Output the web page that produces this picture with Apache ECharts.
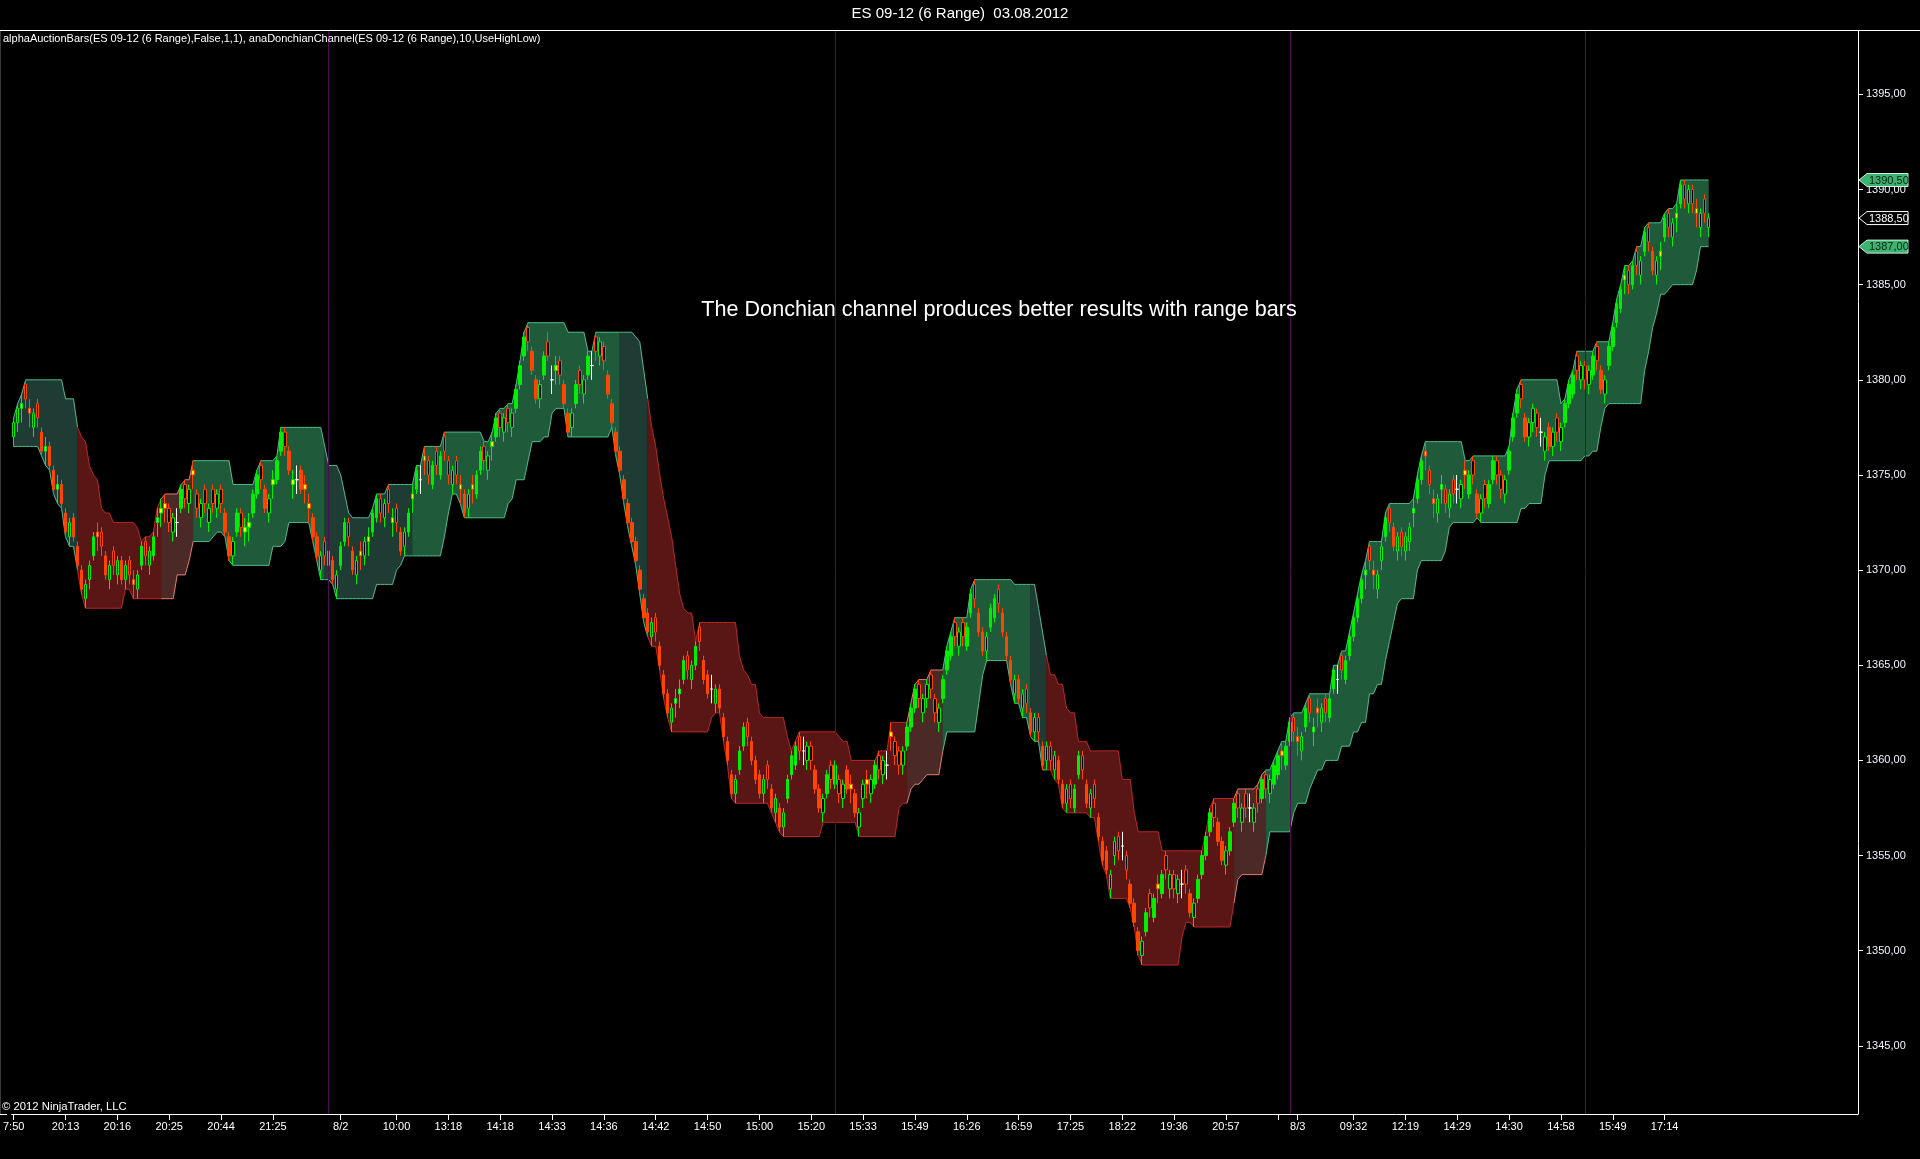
<!DOCTYPE html>
<html>
<head>
<meta charset="utf-8">
<script src="https://cdn.jsdelivr.net/npm/echarts@6/dist/echarts.min.js"></script>
<style>
html,body{margin:0;padding:0;background:#000;}
#chart{width:1920px;height:1159px;}
</style>
</head>
<body>
<div id="chart"></div>
<script>
// ---------------- DATA ----------------
const opens = [
1377,1377.75,1378.5,1379.75,1378.5,1377.5,1378.75,1377.25,1376.25,1376.5,
1375.25,1374.25,1374.5,1373,1371.75,1372.75,1371.25,1370,1368.5,1369.5,
1370.75,1372,1372,1370.75,1369.5,1371,1369.75,1370.5,1369.5,1370.5,
1369.5,1369,1370.25,1371.5,1370.25,1370.75,1372.5,1373,1373.5,1373.25,
1372,1372.5,1373.25,1374.5,1373.5,1375.25,1374,1372.75,1374.25,1372.5,
1374.25,1373.25,1374.25,1373,1371.75,1370.75,1372,1373,1372,1372.25,
1373,1374,1375.5,1374.25,1373,1374.5,1374.75,1376.25,1377.25,1376.25,
1374.5,1374.75,1375.25,1374.5,1373.5,1372.75,1371.75,1370,1371.5,1370.25,
1370.5,1369,1370.25,1371.5,1372.5,1371,1369.75,1371,1370.75,1371.5,
1372,1372.75,1373.75,1372.75,1374.25,1372.5,1373.25,1372,1371.25,1372,
1373.75,1374.25,1374.75,1376,1375.75,1374.5,1376.25,1375,1377,1375.75,
1374.5,1375.75,1374.5,1374,1373.25,1374.5,1374,1375.25,1376.5,1375.25,
1376.5,1377,1378.25,1377.25,1378.5,1377.5,1378.5,1379.75,1381.25,1382.75,
1381.5,1380,1379,1380.25,1382,1380,1380.5,1381,1379.75,1378.25,
1377.5,1378.75,1380.5,1379.25,1380.25,1380.75,1382.25,1381.25,1381.75,1380.25,
1378.75,1377.25,1376.25,1374.75,1373.5,1372.5,1371.5,1370,1368.5,1367.75,
1366.5,1367.5,1366,1364.5,1363.5,1362,1363,1363.5,1364.25,1365.5,
1364.25,1365,1367,1365.25,1364.5,1363.75,1363,1363.75,1362.25,1361,
1359.25,1358.25,1359.5,1360.75,1362,1361,1360,1359.25,1358.25,1359.75,
1358.5,1357.25,1357.5,1356.5,1358,1359.25,1359.75,1361.25,1360.5,1360,
1360.75,1359.5,1358.5,1357.25,1358.25,1359.75,1358.75,1359,1358,1359.5,
1358.75,1358.25,1356.5,1358,1359,1358.25,1358.75,1360.25,1359.25,1359.75,
1361.5,1361,1360.5,1359.75,1360.75,1361.75,1362.75,1364,1362.5,1363.25,
1364.5,1363.25,1362,1363.25,1364.75,1365.5,1367.25,1366,1367.25,1366,
1367.75,1369.25,1367.75,1366.75,1365.75,1367,1367.5,1369,1367.75,1366.5,
1365.25,1363.5,1364.25,1362.75,1363.75,1362.5,1361.5,1362.25,1360.75,1360,
1360.75,1359.5,1360,1358.75,1357.75,1358.75,1357.5,1359.25,1360.25,1358.75,
1357.5,1358.75,1357,1355.75,1355.25,1353.25,1355,1356,1355.5,1355,
1353.5,1352.5,1351,1349.75,1351,1353,1351.75,1353.5,1353,1355,
1353.25,1354,1353,1353.5,1354.25,1353,1351.75,1352.75,1354,1355,
1356.25,1357.75,1356.75,1355.75,1354.5,1355.25,1356.75,1358.25,1356.75,1358.25,
1357.5,1356.75,1358.5,1358,1359.25,1358.25,1358.75,1359.25,1360.5,1359.75,
1361,1362.25,1361.25,1360.5,1361.75,1363.25,1361.5,1362.75,1362,1363.25,
1362.25,1363.75,1364.25,1365.5,1364.25,1365.5,1366.5,1367.5,1368.5,1369.75,
1371.25,1370,1369,1370.5,1371.75,1373.25,1372.25,1371,1372,1371,
1371.5,1373,1373.75,1374.75,1376.25,1375.25,1373.75,1373,1374.25,1374.25,
1373.25,1374.75,1374.25,1373.75,1375.25,1374,1375.75,1374,1373,1374.5,
1373.5,1374.75,1375.75,1375,1374,1375.25,1377,1378.25,1379.75,1378,
1377,1377.75,1378.25,1377.25,1376.25,1377.5,1376.5,1378,1376.75,1377.75,
1378.75,1379.25,1381.25,1380,1380.75,1379.75,1380.25,1381.75,1380.5,1379.25,
1380.75,1381.75,1383,1383.75,1385.25,1385.75,1385,1386.75,1385.5,1386.75,
1388,1386.75,1385.5,1386.5,1387.5,1388.75,1387.5,1388.5,1389.25,1390.25,
1389.25,1390,1389,1388,1389.5,1388
];
const highs = [
1378,1378.75,1379.25,1380,1379,1378.5,1379,1377.5,1377,1376.75,
1375.5,1375,1374.75,1373.25,1372.75,1373,1371.5,1370.25,1369.5,1370.5,
1372,1372.5,1372.25,1371,1370.5,1371.25,1370.75,1370.75,1370.5,1370.75,
1370,1370,1371.5,1371.75,1371.25,1372,1373.25,1373.75,1374,1373.5,
1373,1373.25,1374.5,1374.75,1374.5,1375.75,1374.25,1373.75,1374.5,1373.5,
1374.5,1374.25,1374.5,1373.25,1372,1371.75,1373.25,1373.25,1372.75,1373,
1374.25,1375.25,1375.75,1374.5,1374,1375.25,1376,1377.5,1377.5,1376.5,
1375.25,1375.5,1375.5,1375,1374,1373,1372,1371,1371.75,1371.25,
1370.75,1370,1371.5,1372.75,1372.75,1371.25,1370.75,1371.5,1371.75,1372.25,
1373.25,1374,1374,1373.75,1374.5,1373.25,1373.5,1372.25,1372.25,1373.25,
1374.5,1375.5,1375.5,1376.5,1376,1375.75,1376.5,1376.25,1377.25,1376,
1375.5,1376,1375,1374.25,1374.25,1375,1375.25,1376.5,1376.75,1376.25,
1377.25,1378.25,1378.5,1378.25,1378.75,1378.5,1379.75,1381,1382.5,1383,
1381.75,1380.25,1380,1381.5,1382.5,1380.75,1381.25,1381.25,1380,1378.5,
1378.5,1380,1380.75,1380.25,1381.5,1381.5,1382.5,1382.25,1382,1380.5,
1379,1377.5,1376.5,1375,1373.75,1372.75,1371.75,1370.25,1368.75,1368,
1367.5,1367.75,1366.25,1364.75,1363.75,1363,1363.75,1364.25,1365.5,1365.75,
1365.25,1366.25,1367.25,1365.5,1364.75,1364.5,1364,1364,1362.5,1361.25,
1359.5,1359.25,1360.75,1362,1362.25,1361.25,1360.25,1359.5,1359.25,1360,
1358.75,1358.25,1357.75,1357.5,1359.25,1360.5,1361,1361.5,1361.25,1361,
1361,1359.75,1358.75,1358.25,1359.5,1360,1360,1359.25,1359,1359.75,
1359.25,1358.5,1357.5,1359,1359.5,1359.25,1360,1360.5,1360.25,1360.5,
1362,1361.25,1360.75,1360.75,1362,1363,1364,1364.25,1363.5,1364.25,
1364.75,1363.5,1363,1364.5,1366,1366.75,1367.5,1367,1367.5,1367.25,
1369,1369.5,1368,1367,1366.75,1368.25,1368.75,1369.25,1368,1366.75,
1365.5,1364.5,1364.5,1363.75,1364,1362.75,1362.5,1362.5,1361,1361,
1361,1360.5,1360.25,1359,1358.75,1359,1358.75,1360.5,1360.5,1359,
1358.5,1359,1357.25,1356,1355.5,1354.25,1356,1356.25,1356.25,1355.25,
1353.75,1352.75,1351.25,1350.75,1352.25,1353.25,1353,1354,1354.25,1355.25,
1354.25,1354.25,1354,1354.25,1354.5,1353.25,1352.75,1354,1355.25,1356.25,
1357.5,1358,1357,1356,1355.5,1356.5,1358,1358.5,1357.75,1358.5,
1358.25,1357.75,1358.75,1359.25,1359.5,1359.25,1360,1360.5,1361,1361,
1362.25,1362.5,1361.75,1361.5,1363,1363.5,1362.25,1363.25,1363,1363.5,
1363.5,1365,1365,1365.75,1365.5,1366.75,1367.75,1368.75,1369.75,1370.5,
1371.5,1370.5,1370,1371.5,1373,1373.5,1372.5,1372,1372.25,1372,
1372.5,1373.75,1375,1376,1376.75,1375.5,1374.25,1374,1375,1374.5,
1374.25,1375,1375,1374.75,1375.75,1375.25,1376,1374.25,1374,1374.75,
1374.75,1376,1376,1375.25,1375,1376.5,1378.25,1379.5,1380,1378.25,
1378,1378.75,1378.5,1378,1377.25,1377.75,1377.5,1378.25,1377.75,1379,
1380,1380.5,1381.5,1381,1381,1380.75,1381.5,1382,1380.75,1380.25,
1382,1383,1384.25,1385,1386,1386,1386.25,1387,1386.5,1388,
1388.25,1387,1386.5,1387.25,1388.75,1389,1388.5,1389.25,1390.5,1390.5,
1390.25,1390.25,1389.5,1389,1389.75,1388.75
];
const lows = [
1376.5,1377.25,1377.75,1378.5,1377.5,1377,1377.5,1376,1375.5,1375.25,
1374,1373.5,1373.25,1371.75,1371.25,1371.5,1370,1368.75,1368,1369,
1370.5,1371,1370.75,1369.5,1369,1369.75,1369.25,1369.25,1369,1369.25,
1368.5,1368.5,1370,1370.25,1369.75,1370.5,1371.75,1372.25,1372.5,1372,
1371.5,1371.75,1373,1373.25,1373,1374.25,1372.75,1372.25,1373,1372,
1373,1372.75,1373,1371.75,1370.5,1370.25,1371.75,1371.75,1371.25,1371.5,
1372.75,1373.75,1374.25,1373,1372.5,1373.75,1374.5,1376,1376,1375,
1373.75,1374,1374,1373.5,1372.5,1371.5,1370.5,1369.5,1370.25,1369.75,
1369.25,1368.5,1370,1371.25,1371.25,1369.75,1369.25,1370,1370.25,1370.75,
1371.75,1372.5,1372.5,1372.25,1373,1371.75,1372,1370.75,1370.75,1371.75,
1373,1374,1374,1375,1374.5,1374.25,1375,1374.75,1375.75,1374.5,
1374,1374.5,1373.5,1372.75,1372.75,1373.5,1373.75,1375,1375.25,1374.75,
1375.75,1376.75,1377,1376.75,1377.25,1377,1378.25,1379.5,1381,1381.5,
1380.25,1378.75,1378.5,1380,1381,1379.25,1379.75,1379.75,1378.5,1377,
1377,1378.5,1379.25,1378.75,1380,1380,1381,1380.75,1380.5,1379,
1377.5,1376,1375,1373.5,1372.25,1371.25,1370.25,1368.75,1367.25,1366.5,
1366,1366.25,1364.75,1363.25,1362.25,1361.5,1362.25,1362.75,1364,1364.25,
1363.75,1364.75,1365.75,1364,1363.25,1363,1362.5,1362.5,1361,1359.75,
1358,1357.75,1359.25,1360.5,1360.75,1359.75,1358.75,1358,1357.75,1358.5,
1357.25,1356.75,1356.25,1356,1357.75,1359,1359.5,1360,1359.75,1359.5,
1359.5,1358.25,1357.25,1356.75,1358,1358.5,1358.5,1357.75,1357.5,1358.25,
1357.75,1357,1356,1357.5,1358,1357.75,1358.5,1359,1358.75,1359,
1360.5,1359.75,1359.25,1359.25,1360.5,1361.5,1362.5,1362.75,1362,1362.75,
1363.25,1362,1361.5,1363,1364.5,1365.25,1366,1365.5,1366,1365.75,
1367.5,1368,1366.5,1365.5,1365.25,1366.75,1367.25,1367.75,1366.5,1365.25,
1364,1363,1363,1362.25,1362.5,1361.25,1361,1361,1359.5,1359.5,
1359.5,1359,1358.75,1357.5,1357.25,1357.5,1357.25,1359,1359,1357.5,
1357,1357.5,1355.75,1354.5,1354,1352.75,1354.5,1354.75,1354.75,1353.75,
1352.25,1351.25,1349.75,1349.25,1350.75,1351.75,1351.5,1352.5,1352.75,1353.75,
1352.75,1352.75,1352.5,1352.75,1353,1351.75,1351.25,1352.5,1353.75,1354.75,
1356,1356.5,1355.5,1354.5,1354,1355,1356.5,1357,1356.25,1357,
1356.75,1356.25,1357.25,1357.75,1358,1357.75,1358.5,1359,1359.5,1359.5,
1360.75,1361,1360.25,1360,1361.5,1362,1360.75,1361.75,1361.5,1362,
1362,1363.5,1363.5,1364.25,1364,1365.25,1366.25,1367.25,1368.25,1369,
1370,1369,1368.5,1370,1371.5,1372,1371,1370.5,1370.75,1370.5,
1371,1372.25,1373.5,1374.5,1375.25,1374,1372.75,1372.5,1373.5,1373,
1372.75,1373.5,1373.5,1373.25,1374.25,1373.75,1374.5,1372.75,1372.5,1373.25,
1373.25,1374.5,1374.5,1373.75,1373.5,1375,1376.75,1378,1378.5,1376.75,
1376.5,1377.25,1377,1376.5,1375.75,1376.25,1376,1376.75,1376.25,1377.5,
1378.5,1379,1380,1379.5,1379.5,1379.25,1380,1380.5,1379.25,1378.75,
1380.5,1381.5,1382.75,1383.5,1384.5,1384.5,1384.75,1385.5,1385,1386.5,
1386.75,1385.5,1385,1385.75,1387.25,1387.5,1387,1387.75,1389,1389,
1388.75,1388.75,1388,1387.5,1388.25,1387.5
];
const closes = [
1377.75,1378.5,1378.75,1379,1378.25,1378.25,1378,1376.25,1376.5,1375.5,
1374.25,1374.5,1373.5,1372,1372.5,1371.75,1370.25,1369,1369.25,1370.25,
1371.75,1371.75,1371.25,1369.75,1370.25,1370.25,1370.5,1369.5,1370.25,1369.75,
1369.25,1369.75,1371.25,1370.75,1371,1371.75,1372.75,1373.25,1373.25,1372.5,
1372.75,1372.5,1374.25,1373.75,1374.25,1375,1373.25,1373.5,1373.5,1373.25,
1373.5,1374,1373.5,1372,1370.75,1371.5,1373,1372.25,1372.25,1372.5,
1374,1375,1374.75,1373.25,1373.75,1374.75,1375.75,1377.25,1376.5,1375.25,
1374.75,1374.75,1374.25,1374.25,1373.25,1371.75,1370.75,1370.75,1370.75,1371,
1369.5,1369.75,1371.25,1372.5,1371.75,1370,1370.5,1370.75,1371.5,1371.75,
1373,1373.75,1373,1373.5,1373.5,1372.75,1372.5,1371,1372,1373,
1374,1375.25,1374.75,1375.75,1375,1375.5,1375.5,1376,1376.25,1375,
1375.25,1375,1374.25,1373,1374,1374.25,1375,1376.25,1375.75,1376,
1376.75,1378,1377.5,1378,1377.75,1378.25,1379.5,1380.75,1382.25,1382,
1380.5,1379,1379.75,1381.25,1381.25,1380,1380.75,1380.25,1378.75,1377.25,
1378.25,1379.75,1379.75,1380,1381.25,1380.75,1381.5,1382,1381,1379.25,
1377.75,1376.25,1375.25,1373.75,1372.5,1371.5,1370.5,1369,1367.5,1366.75,
1367.25,1366.75,1365,1363.5,1362.5,1362.75,1363.25,1363.75,1365.25,1364.75,
1365,1366,1366.25,1364.25,1363.5,1363.75,1363.75,1362.75,1361.25,1360,
1358.25,1359,1360.5,1361.75,1361.25,1360,1359,1358.25,1359,1359,
1357.5,1358,1356.5,1357.25,1359,1360.25,1360.75,1360.5,1360.5,1360.75,
1360,1358.5,1357.5,1358,1359.25,1359,1359.75,1358.25,1358.75,1358.5,
1358.5,1357.25,1357.25,1358.75,1358.75,1359,1359.75,1359.5,1360,1359.75,
1361.25,1360.25,1359.75,1360.5,1361.75,1362.75,1363.75,1363.25,1363.25,1364,
1363.75,1362.5,1362.75,1364.25,1365.75,1366.5,1366.5,1366.75,1366.5,1367,
1368.75,1368.5,1366.75,1365.75,1366.5,1368,1368.5,1368.25,1366.75,1365.5,
1364.25,1364.25,1363.25,1363.5,1363,1361.5,1362.25,1361.5,1359.75,1360.75,
1360,1360.25,1359,1357.75,1358.5,1358,1358.5,1360.25,1359.5,1357.75,
1358.25,1358,1356,1354.75,1354.25,1354,1355.75,1355.25,1355.5,1354.25,
1352.5,1351.5,1350,1350.5,1352,1352.25,1352.75,1353.25,1354,1354.25,
1354,1353.25,1353.75,1353.5,1353.5,1352,1352.5,1353.75,1355,1356,
1357.25,1357,1355.75,1354.75,1355.25,1356.25,1357.75,1357.5,1357.5,1357.5,
1357.5,1357.5,1357.75,1359,1358.5,1359,1359.75,1360.25,1360.25,1360.75,
1362,1361.5,1361,1361.25,1362.75,1362.5,1361.75,1362.5,1362.75,1362.5,
1363.25,1364.75,1364.25,1364.75,1365.25,1366.5,1367.5,1368.5,1369.5,1370,
1370.5,1369.75,1369.75,1371.25,1372.75,1372.5,1371.25,1371.75,1371.25,1371.75,
1372.25,1373.25,1374.75,1375.75,1376,1374.5,1373.5,1373.75,1374.5,1373.5,
1374,1374,1374.25,1374.5,1375,1375,1375,1373,1373.75,1373.75,
1374.5,1375.75,1375,1374.25,1374.75,1376.25,1378,1379.25,1379,1377,
1377.75,1378.5,1377.5,1377.25,1377,1376.5,1377.25,1377.25,1377.5,1378.75,
1379.75,1380.25,1380.5,1380.75,1380,1380.5,1381.25,1381,1379.5,1380,
1381.75,1382.75,1384,1384.75,1385.5,1385,1386,1386,1386.25,1387.75,
1387.25,1385.75,1386.25,1386.75,1388.5,1388,1388.25,1388.75,1390.25,1389.5,
1390,1389.25,1388.75,1388.75,1388.75,1388.5
];
// Auction bar type per bar: G/g up solid/hollow, R/r down solid/hollow, Y/y small body, W doji
const barTypes =
  'ggYrygrRYR' + 'RYRRgRRRgg' + 'GyrRgrgRgr' + 'ygGrgGYYyr' + 'gWGrgyrgrg' +
  'rgrRRgGrYY' + 'GGrRgYGGrR' + 'YWRyyRRgrg' + 'RgGGrRgygY' + 'GGrgrYrRgG' +
  'YGWyrGrGrr' + 'gryRgyGGrg' + 'YGrgrgGGGr' + 'RRgGrWYrRR' + 'gGrgGWrgrR' +
  'RRRRRRRRRR' + 'grRRRgYYGr' + 'gGrRRWgRRR' + 'RgGGrRRRgr' + 'RgRgGGGrWg' +
  'rRRgGrGrgR' + 'yRggygGrgW' + 'yrrgGGGrgg' + 'rrgGGGrgrG' + 'GrRRgGGrRR' +
  'RgRgrRgrRg' + 'rgRRgrGGrR' + 'grRRRggrWr' + 'RRRgGrGyGr' + 'grgWrRgGGG' +
  'GrRRgGGrgr' + 'WgrGrgGGyG' + 'GrygGrYygr' + 'GGWrGGGGGY' + 'ryggGrRgrg' +
  'gYGGyrygYr' + 'grWgyGrRgr' + 'GGrrgGGGrR' + 'ggrWgRgrgG' + 'GGrgrgGrRg' +
  'GGGGYrGrgG' + 'rRgYGrgYGr' + 'grygrg';

// Donchian channel trend regions (first bar index of each colored region)
const regionStart = [0, 16, 37, 45, 78, 100, 152, 159, 224, 233, 255, 259, 306, 314];
const regionTrend = ['upFade','down','downFade','up','upFade','up','upFade','down','downFade','up','upFade','down','downFade','up'];
const channelPeriod = 10;

// X axis tick labels (bar index -> text)
const labelIdx  = [0,13,26,39,52,65,82,96,109,122,135,148,161,174,187,200,213,226,239,252,265,278,291,304,322,336,349,362,375,388,401,414];
const labelText = ['7:50','20:13','20:16','20:25','20:44','21:25','8/2','10:00','13:18','14:18','14:33','14:36','14:42','14:50','15:00','15:20','15:33','15:49','16:26','16:59','17:25','18:22','19:36','20:57','8/3','09:32','12:19','14:29','14:30','14:58','15:49','17:14'];
const extraTickIdx = [317];
const sessionBreakIdx = [79, 206, 320, 394];
const yTicks = [1345,1350,1355,1360,1365,1370,1375,1380,1385,1390,1395];

// ---------------- BUILD ----------------
const N_CAT = 463;
const cats = Array.from({length: N_CAT}, (_, i) => String(i));
const labelMap = new Map(labelIdx.map((v, k) => [v, labelText[k]]));
const tickSet = new Set(labelIdx.concat(extraTickIdx));

const upper = highs.map((h, i) => Math.max.apply(null, highs.slice(Math.max(0, i - channelPeriod + 1), i + 1)));
const lower = lows.map((l, i) => Math.min.apply(null, lows.slice(Math.max(0, i - channelPeriod + 1), i + 1)));

const GREEN = '#00ee00', RED = '#ff4500', YELLOW = '#ffff00', WHITE = '#ffffff', BLACK = '#000000';
function typeStyle(t) {
  let fill, border;
  switch (t) {
    case 'G': fill = GREEN; border = GREEN; break;
    case 'g': fill = BLACK; border = GREEN; break;
    case 'R': fill = RED; border = RED; break;
    case 'r': fill = BLACK; border = RED; break;
    case 'Y': fill = YELLOW; border = GREEN; break;
    case 'y': fill = YELLOW; border = RED; break;
    default: fill = WHITE; border = WHITE;
  }
  return {color: fill, color0: fill, borderColor: border, borderColor0: border, borderWidth: 1};
}
const TREND_STYLE = {
  up:       {fill: '#1f5a3b', line: '#4fb98b'},
  upFade:   {fill: '#1f3c34', line: '#4fb98b'},
  down:     {fill: '#5a1515', line: '#b82828'},
  downFade: {fill: '#4b2926', line: '#e57a70'}
};

const candleData = opens.map((o, i) => ({
  value: [o, closes[i], lows[i], highs[i]],
  itemStyle: typeStyle(barTypes[i])
}));

const lastIdx = opens.length - 1;
const FONT = 'Liberation Sans, Arial, sans-serif';

const chart = echarts.init(document.getElementById('chart'), null, {renderer: 'canvas'});

const option = {
  backgroundColor: '#000000',
  animation: false,
  grid: {left: 6, top: 31, width: N_CAT * 4, height: 1083, containLabel: false},
  xAxis: {
    type: 'category',
    data: cats,
    boundaryGap: true,
    axisLine: {show: true, lineStyle: {color: '#ffffff', width: 1}},
    axisTick: {show: true, alignWithLabel: true, length: 6, interval: (i) => tickSet.has(i), lineStyle: {color: '#ffffff'}},
    axisLabel: {
      show: true, interval: (i) => labelMap.has(i),
      formatter: (v, i) => labelMap.get(Number(v)) || '',
      color: '#ffffff', fontSize: 11, fontFamily: FONT, margin: 7
    },
    splitLine: {show: false}
  },
  yAxis: {
    type: 'value',
    position: 'right',
    min: 1341.42, max: 1398.33,
    axisLine: {show: true, lineStyle: {color: '#ffffff', width: 1}},
    axisTick: {show: true, length: 5, customValues: yTicks, lineStyle: {color: '#ffffff'}},
    axisLabel: {
      show: true, customValues: yTicks,
      formatter: (v) => Number(v).toFixed(2).replace('.', ','),
      color: '#f4f4ff', fontSize: 11, fontFamily: FONT, margin: 8
    },
    splitLine: {show: false}
  },
  series: [
    {
      type: 'custom',
      name: 'anaDonchianChannel',
      z: 1,
      silent: true,
      clip: true,
      data: regionStart.map((s) => [s, upper[s]]),
      encode: {x: 0, y: 1},
      renderItem: function (params, api) {
        const k = params.dataIndex;
        const s = regionStart[k];
        const e = k + 1 < regionStart.length ? regionStart[k + 1] : lastIdx;
        const up = [], lo = [];
        for (let i = s; i <= e; i++) {
          up.push(api.coord([i, upper[i]]));
          lo.push(api.coord([i, lower[i]]));
        }
        const st = TREND_STYLE[regionTrend[k]];
        return {
          type: 'group',
          children: [
            {type: 'polygon', shape: {points: up.concat(lo.slice().reverse())}, style: {fill: st.fill, stroke: st.fill, lineWidth: 0.5}},
            {type: 'polyline', shape: {points: up}, style: {stroke: st.line, lineWidth: 1, fill: null}},
            {type: 'polyline', shape: {points: lo}, style: {stroke: st.line, lineWidth: 1, fill: null}}
          ]
        };
      },
      markLine: {
        silent: true,
        symbol: ['none', 'none'],
        animation: false,
        label: {show: false},
        lineStyle: {color: '#4d0f4d', width: 1, type: 'solid'},
        data: sessionBreakIdx.map((i) => ({xAxis: i}))
      }
    },
    {
      type: 'candlestick',
      name: 'alphaAuctionBars',
      z: 3,
      large: false,
      barWidth: 3,
      data: candleData
    }
  ],
  graphic: {
    elements: [
      {type: 'line', id: 'topline', silent: true, z: 50, shape: {x1: 0, y1: 30.5, x2: 1920, y2: 30.5}, style: {stroke: '#ffffff', lineWidth: 1}},
      {type: 'line', id: 'leftline', silent: true, z: 50, shape: {x1: 0.5, y1: 31, x2: 0.5, y2: 1114}, style: {stroke: '#3a3a3a', lineWidth: 1}},
      {type: 'line', id: 'axisext', silent: true, z: 50, shape: {x1: 0, y1: 1114.5, x2: 7, y2: 1114.5}, style: {stroke: '#ffffff', lineWidth: 1}},
      {type: 'text', id: 'title', silent: true, z: 50, x: 960, y: 14, style: {text: 'ES 09-12 (6 Range)  03.08.2012', fill: '#ffffff', font: '15px ' + FONT, textAlign: 'center', textVerticalAlign: 'middle'}},
      {type: 'text', id: 'ind', silent: true, z: 50, x: 3, y: 39, style: {text: 'alphaAuctionBars(ES 09-12 (6 Range),False,1,1), anaDonchianChannel(ES 09-12 (6 Range),10,UseHighLow)', fill: '#ffffff', font: '11px ' + FONT, textAlign: 'left', textVerticalAlign: 'middle'}},
      {type: 'text', id: 'note', silent: true, z: 50, x: 999, y: 310, style: {text: 'The Donchian channel produces better results with range bars', fill: '#ffffff', font: '21.6px ' + FONT, textAlign: 'center', textVerticalAlign: 'middle'}},
      {type: 'text', id: 'copy', silent: true, z: 50, x: 2, y: 1107, style: {text: '\u00A9 2012 NinjaTrader, LLC', fill: '#ffffff', font: '11.3px ' + FONT, textAlign: 'left', textVerticalAlign: 'middle'}}
    ]
  }
};

chart.setOption(option);

// price markers on the right axis (upper channel, last price, lower channel)
function marker(id, value, fill, stroke, textColor) {
  const y = chart.convertToPixel({yAxisIndex: 0}, value);
  const x0 = 1859, x1 = 1867, x2 = 1908, h = 6.5;
  return [
    {type: 'polygon', id: id + 'b', silent: true, z: 60,
     shape: {points: [[x0, y], [x1, y - h], [x2, y - h], [x2, y + h], [x1, y + h]]},
     style: {fill: fill, stroke: stroke, lineWidth: 1}},
    {type: 'text', id: id + 't', silent: true, z: 61, x: 1869, y: y + 0.5,
     style: {text: Number(value).toFixed(2).replace('.', ','), fill: textColor, font: '11px ' + FONT, textAlign: 'left', textVerticalAlign: 'middle'}}
  ];
}
const markers = []
  .concat(marker('mu', upper[lastIdx], '#3cb371', '#cfeedd', '#05200f'))
  .concat(marker('ml', lower[lastIdx], '#3cb371', '#cfeedd', '#05200f'))
  .concat(marker('mc', closes[lastIdx], '#000000', '#ffffff', '#ffffff'));
chart.setOption({graphic: {elements: markers}});
</script>
</body>
</html>
